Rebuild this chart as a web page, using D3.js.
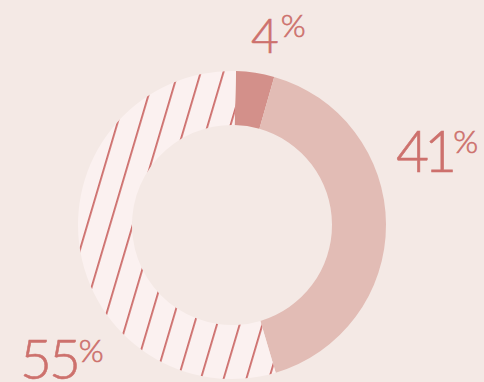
<!DOCTYPE html>
<html><head><meta charset="utf-8">
<script src="https://cdn.jsdelivr.net/npm/d3@7"></script>
<style>html,body{margin:0;padding:0;background:#f4e9e5;overflow:hidden}svg{display:block}</style>
</head><body><svg id="c" width="484" height="382"></svg>
<script>
const categories = ["Segment A", "Segment B", "Segment C"];
const values = [4, 41, 55];
const valueLabels = ["4", "41", "55"];
const fills = ["#d3908a", "#e2bcb5", "url(#hatch)"];
const labelSizes = [48, 57, 55];
const labelSpacing = [0, -5, -3];
const labelPos = [[251, 53], [396, 172], [20, 379]];
const pctDx = [2, 1, 1];
const pctDy = [-16, -19, -17];

const W = 484, H = 382, cx = 232, cy = 225, rOuter = 154, rInner = 100;
const offset = 1.5 * Math.PI / 180;
const svg = d3.select("#c");
svg.append("rect").attr("width", W).attr("height", H).attr("fill", "#f4e9e5");

const defs = svg.append("defs");
const pat = defs.append("pattern").attr("id", "hatch")
  .attr("patternUnits", "userSpaceOnUse").attr("width", 21.8).attr("height", 10)
  .attr("patternTransform", "rotate(16.5)");
pat.append("rect").attr("width", 21.8).attr("height", 10).attr("fill", "#fbf1f0");
pat.append("line").attr("x1", 13.8).attr("x2", 13.8).attr("y1", -1).attr("y2", 11)
  .attr("stroke", "#cc6a68").attr("stroke-width", 1.8);

const pie = d3.pie().sort(null).value(d => d).startAngle(offset).endAngle(2 * Math.PI + offset);
const arc = d3.arc().innerRadius(rInner).outerRadius(rOuter);
const g = svg.append("g").attr("transform", `translate(${cx},${cy})`);
g.selectAll("path").data(pie(values)).join("path")
  .attr("d", arc).attr("fill", (d, i) => fills[i]);

const t = svg.selectAll("text.lbl").data(values).join("text").attr("class", "lbl")
  .attr("x", (d, i) => labelPos[i][0]).attr("y", (d, i) => labelPos[i][1])
  .attr("fill", "#cd716d").attr("stroke", "#cd716d").attr("stroke-width", 0.6)
  .style("font-family", "Lato, 'Open Sans', sans-serif")
  .style("font-weight", 300);
t.append("tspan").style("font-size", (d, i) => labelSizes[i] + "px")
  .style("letter-spacing", (d, i) => labelSpacing[i] + "px")
  .text((d, i) => valueLabels[i]);
t.append("tspan").style("font-size", "32px").style("letter-spacing", "0px")
  .attr("dx", (d, i) => pctDx[i]).attr("dy", (d, i) => pctDy[i]).text("%");
</script></body></html>
